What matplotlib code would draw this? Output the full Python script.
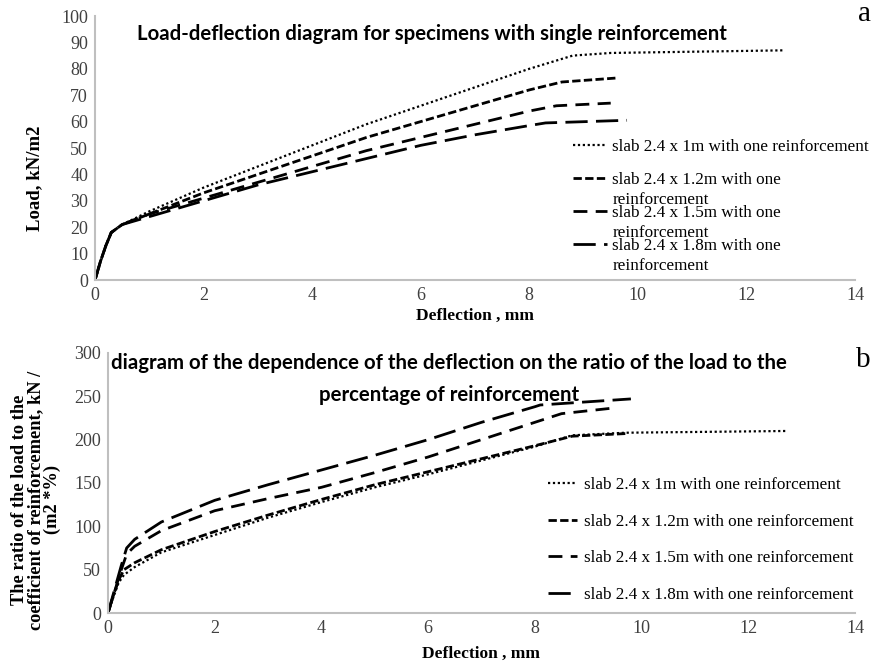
import matplotlib
matplotlib.use('Agg')
import matplotlib.pyplot as plt

# Panel a: load vs deflection
defl_1m = [0, 0.1, 0.2, 0.3, 0.5, 1, 2, 3, 4, 5, 6, 7, 8, 8.8, 9.5, 12.7]
load_1m = [0, 7, 13, 18, 21, 26, 35, 43, 51, 59, 66, 73, 80, 85, 86, 87]
defl_12m = [0, 0.1, 0.2, 0.3, 0.5, 1, 2, 3, 4, 5, 6, 7, 8, 8.6, 9.6]
load_12m = [0, 7, 13, 18, 21, 25, 33, 40, 47, 54, 60, 66, 72, 75, 76.5]
defl_15m = [0, 0.1, 0.2, 0.3, 0.5, 1, 2, 3, 4, 5, 6, 7, 8, 8.5, 9.5]
load_15m = [0, 7, 13, 18, 21, 25, 31, 37, 43, 49, 54, 59, 64, 66, 67]
defl_18m = [0, 0.1, 0.2, 0.3, 0.5, 1, 2, 3, 4, 5, 6, 7, 8, 8.3, 9.8]
load_18m = [0, 7, 13, 18, 21, 24, 30, 36, 41, 46, 51, 55, 58.5, 59.5, 60.5]

# Panel b: ratio of load to reinforcement coefficient vs deflection
rdefl_1m = [0, 0.1, 0.2, 0.3, 0.5, 1, 2, 3, 4, 5, 6, 7, 8, 8.7, 9.7, 12.7]
ratio_1m = [0, 18, 35, 44, 53, 70, 90, 110, 128, 145, 160, 176, 192, 205, 208, 210]
rdefl_12m = [0, 0.1, 0.2, 0.3, 0.5, 1, 2, 3, 4, 5, 6, 7, 8, 8.7, 9.7]
ratio_12m = [0, 20, 38, 50, 58, 73, 94, 113, 131, 148, 163, 178, 193, 204, 207]
rdefl_15m = [0, 0.1, 0.2, 0.25, 0.35, 0.5, 1, 2, 3, 4, 5, 6, 7, 8, 8.5, 9.4]
ratio_15m = [0, 20, 40, 50, 68, 77, 95, 118, 132, 145, 162, 180, 200, 220, 230, 236]
rdefl_18m = [0, 0.1, 0.2, 0.25, 0.35, 0.5, 1, 2, 3, 4, 5, 6, 7, 8, 8.1, 9.8]
ratio_18m = [0, 22, 44, 55, 75, 85, 105, 130, 148, 165, 182, 200, 220, 238, 240, 247]

# trailing newline on the first label keeps the legend slots even, like the original
labels_a = ['slab 2.4 x 1m with one reinforcement\n',
            'slab 2.4 x 1.2m with one\nreinforcement',
            'slab 2.4 x 1.5m with one\nreinforcement',
            'slab 2.4 x 1.8m with one\nreinforcement']
labels_b = ['slab 2.4 x 1m with one reinforcement',
            'slab 2.4 x 1.2m with one reinforcement',
            'slab 2.4 x 1.5m with one reinforcement',
            'slab 2.4 x 1.8m with one reinforcement']

serif = 'Liberation Serif'
title_font = 'Lato'
tick_color = '#404040'
axis_color = '#bfbfbf'

styles = [dict(linestyle=(0, (1, 1.2)), linewidth=1.6),
          dict(linestyle=(0, (3, 1.2)), linewidth=2.0),
          dict(linestyle=(0, (5, 3)), linewidth=2.0),
          dict(linestyle=(0, (8, 3)), linewidth=2.0)]

fig = plt.figure(figsize=(8.78, 6.64), dpi=100)
ax1 = fig.add_axes([0.1082, 0.5783, 0.8656, 0.3976])
ax2 = fig.add_axes([0.1230, 0.0768, 0.8508, 0.3916])


def style_axes(ax, ymax, ystep):
    ax.set_xlim(0, 14)
    ax.set_ylim(0, ymax)
    ax.set_xticks(range(0, 15, 2))
    ax.set_yticks(range(0, ymax + 1, ystep))
    for s in ['top', 'right']:
        ax.spines[s].set_visible(False)
    for s in ['left', 'bottom']:
        ax.spines[s].set_color(axis_color)
        ax.spines[s].set_linewidth(1.5)
    ax.tick_params(length=0, labelsize=13, labelcolor=tick_color, pad=5)
    for lab in ax.get_xticklabels() + ax.get_yticklabels():
        lab.set_fontfamily(serif)


# top panel
series_a = [(defl_1m, load_1m), (defl_12m, load_12m), (defl_15m, load_15m), (defl_18m, load_18m)]
for (x, y), st, lab in zip(series_a, styles, labels_a):
    ax1.plot(x, y, color='black', label=lab, **st)
style_axes(ax1, 100, 10)
ax1.set_xlabel('Deflection , mm', fontfamily=serif, fontweight='bold', fontsize=12.5)
ax1.xaxis.set_label_coords(0.5, -0.105)
ax1.set_ylabel('Load, kN/m2', fontfamily=serif, fontweight='bold', fontsize=13.5)
ax1.yaxis.set_label_coords(-0.068, 0.386)
ax1.text(0.443, 0.93, 'Load-deflection diagram for specimens with single reinforcement',
         transform=ax1.transAxes, ha='center', va='center',
         fontfamily=title_font, fontweight='bold', fontsize=14.7)
leg1 = ax1.legend(loc='upper left', bbox_to_anchor=(0.629, 0.533), frameon=False, handlelength=2.0,
                  handletextpad=0.3, labelspacing=-0.2, borderpad=0, borderaxespad=0,
                  prop={'family': serif, 'size': 12.3})
for t in leg1.get_texts():
    t.set_linespacing(1.35)
# put each handle level with the first line of its label
for col in leg1._legend_handle_box.get_children():
    for item in col.get_children():
        item.align = 'top'

# bottom panel
series_b = [(rdefl_1m, ratio_1m), (rdefl_12m, ratio_12m), (rdefl_15m, ratio_15m), (rdefl_18m, ratio_18m)]
for (x, y), st, lab in zip(series_b, styles, labels_b):
    ax2.plot(x, y, color='black', label=lab, **st)
style_axes(ax2, 300, 50)
ax2.set_xlabel('Deflection , mm', fontfamily=serif, fontweight='bold', fontsize=12.5)
ax2.xaxis.set_label_coords(0.5, -0.125)
ax2.set_ylabel('The ratio of the load to the\ncoefficient of reinforcement, kN /\n(m2 *%)',
               fontfamily=serif, fontweight='bold', fontsize=13.2, linespacing=0.95)
ax2.yaxis.set_label_coords(-0.063, 0.435)
ax2.text(0.456, 0.90, 'diagram of the dependence of the deflection on the ratio of the load to the\n'
         'percentage of reinforcement', transform=ax2.transAxes, ha='center', va='center',
         fontfamily=title_font, fontweight='bold', fontsize=14.7, linespacing=1.75)
ax2.legend(loc='upper left', bbox_to_anchor=(0.589, 0.523), frameon=False, handlelength=1.7,
           handletextpad=0.4, labelspacing=1.2, borderpad=0, borderaxespad=0,
           prop={'family': serif, 'size': 12.3})

fig.text(0.992, 0.998, 'a', fontfamily=serif, fontsize=21, ha='right', va='top')
fig.text(0.992, 0.478, 'b', fontfamily=serif, fontsize=21, ha='right', va='top')

fig.savefig('out.png', dpi=100)
